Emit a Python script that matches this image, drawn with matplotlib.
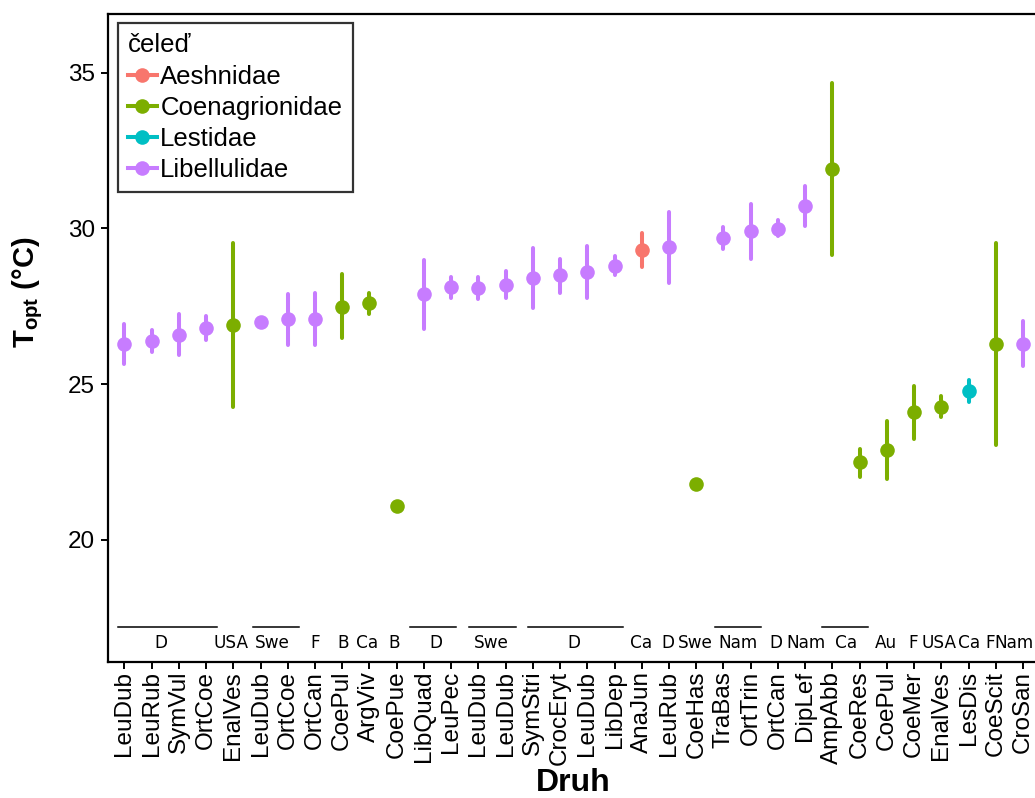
import matplotlib
matplotlib.use("Agg")
import matplotlib.pyplot as plt
from matplotlib.lines import Line2D
import numpy as np

plt.rcParams['font.family'] = ['Liberation Sans', 'DejaVu Sans']
plt.rcParams['mathtext.fontset'] = 'custom'
plt.rcParams['mathtext.rm'] = 'Liberation Sans'
plt.rcParams['mathtext.bf'] = 'Liberation Sans:bold'

species = ["LeuDub", "LeuRub", "SymVul", "OrtCoe", "EnalVes", "LeuDub", "OrtCoe", "OrtCan",
           "CoePul", "ArgViv", "CoePue", "LibQuad", "LeuPec", "LeuDub", "LeuDub", "SymStri",
           "CrocEryt", "LeuDub", "LibDep", "AnaJun", "LeuRub", "CoeHas", "TraBas", "OrtTrin",
           "OrtCan", "DipLef", "AmpAbb", "CoeRes", "CoePul", "CoeMer", "EnalVes", "LesDis",
           "CoeScit", "CroSan"]
family = ["Libellulidae", "Libellulidae", "Libellulidae", "Libellulidae", "Coenagrionidae",
          "Libellulidae", "Libellulidae", "Libellulidae", "Coenagrionidae", "Coenagrionidae",
          "Coenagrionidae", "Libellulidae", "Libellulidae", "Libellulidae", "Libellulidae",
          "Libellulidae", "Libellulidae", "Libellulidae", "Libellulidae", "Aeshnidae",
          "Libellulidae", "Coenagrionidae", "Libellulidae", "Libellulidae", "Libellulidae",
          "Libellulidae", "Coenagrionidae", "Coenagrionidae", "Coenagrionidae", "Coenagrionidae",
          "Coenagrionidae", "Lestidae", "Coenagrionidae", "Libellulidae"]
topt = [26.30, 26.39, 26.58, 26.80, 26.90, 27.00, 27.10, 27.10, 27.48, 27.59, 21.09, 27.90,
        28.12, 28.10, 28.19, 28.40, 28.49, 28.60, 28.80, 29.30, 29.40, 21.80, 29.69, 29.90,
        29.99, 30.71, 31.90, 22.51, 22.89, 24.10, 24.28, 24.78, 26.28, 26.28]
lower = [25.65, 26.03, 25.94, 26.40, 24.26, np.nan, 26.27, 26.25, 26.47, 27.25, np.nan, 26.78,
         27.76, 27.74, 27.75, 27.43, 27.94, 27.76, 28.50, 28.76, 28.25, np.nan, 29.35, 29.02,
         29.74, 30.06, 29.15, 22.03, 21.96, 23.24, 23.94, 24.42, 23.05, 25.57]
upper = [26.93, 26.74, 27.24, 27.19, 29.53, np.nan, 27.90, 27.92, 28.54, 27.94, np.nan, 28.99,
         28.44, 28.44, 28.64, 29.36, 29.03, 29.43, 29.10, 29.84, 30.53, np.nan, 30.03, 30.77,
         30.26, 31.35, 34.65, 22.92, 23.82, 24.93, 24.63, 25.14, 29.53, 27.03]

country_labels = ["D", "USA", "Swe", "F", "B", "Ca", "B", "D", "Swe", "D", "Ca", "D", "Swe",
                  "Nam", "D", "Nam", "Ca", "Au", "F", "USA", "Ca", "F"]
country_pos = [2.35, 4.91, 6.45, 8.00, 9.02, 9.90, 10.90, 12.45, 14.47, 17.51, 19.96, 20.94,
               21.96, 23.55, 24.93, 26.03, 27.50, 28.96, 29.98, 30.93, 32.03, 32.80]
last_label = "Nam"
last_label_right = 34.40
group_start = [0.78, 5.74, 11.49, 13.67, 15.84, 22.69, 26.61]
group_end = [4.42, 7.43, 13.18, 15.39, 19.30, 24.37, 28.29]

families = ["Aeshnidae", "Coenagrionidae", "Lestidae", "Libellulidae"]
colors = {"Aeshnidae": "#F8766D", "Coenagrionidae": "#7CAE00",
          "Lestidae": "#00BFC4", "Libellulidae": "#C77CFF"}

fig = plt.figure(figsize=(10.35, 7.98), dpi=100)
ax = fig.add_axes([108 / 1035, 1 - 662 / 798, 931.4 / 1035, 648 / 798])

x = np.arange(1, len(species) + 1)
for xi, v, lo, hi, fam in zip(x, topt, lower, upper, family):
    c = colors[fam]
    if not np.isnan(lo):
        ax.plot([xi, xi], [lo, hi], color=c, lw=2.9, solid_capstyle='round', zorder=2)
    ax.plot([xi], [v], 'o', color=c, markersize=10.5, markeredgewidth=0, zorder=3)

for s, e in zip(group_start, group_end):
    ax.plot([s, e], [17.19, 17.19], color='black', lw=1.1, zorder=1)
for lab, p in zip(country_labels, country_pos):
    ax.text(p, 16.68, lab, ha='center', va='center', fontsize=12.2,
            family='DejaVu Sans', clip_on=False)
ax.text(last_label_right, 16.68, last_label, ha='right', va='center', fontsize=12.2,
        family='DejaVu Sans', clip_on=False)

ax.set_xlim(0.4, len(species) + 0.6)
ax.set_ylim(16.08, 36.88)
ax.set_xticks(x)
ax.set_xticklabels(species, rotation=90, fontsize=17.5)
ax.set_yticks([20, 25, 30, 35])
ax.set_yticklabels(["20", "25", "30", "35"], fontsize=17.5)
ax.tick_params(axis='x', length=4.8, width=1.4, pad=1.5, color='black')
ax.tick_params(axis='y', length=4.8, width=1.4, pad=4.5, color='black')
for sp in ax.spines.values():
    sp.set_linewidth(1.6)
    sp.set_color('black')

ax.set_xlabel("Druh", fontsize=23, fontweight='bold', labelpad=2)
ax.set_ylabel(r"$\mathbf{T_{opt}}$ (°C)", fontsize=21, fontweight='bold')
ax.yaxis.set_label_coords(-0.068, 0.57)

handles = [Line2D([0], [0], color=colors[f], lw=2.9, marker='o', markersize=10.5,
                  markeredgewidth=0) for f in families]
leg = ax.legend(handles, families, title="čeleď", loc='upper left',
                bbox_to_anchor=(0.0107, 0.986), borderaxespad=0, fontsize=18.5,
                title_fontsize=18.5, frameon=True, fancybox=False, handlelength=1.1,
                handletextpad=0.15, labelspacing=0.28, borderpad=0.4)
leg._legend_box.align = "left"
leg.get_frame().set_edgecolor('black')
leg.get_frame().set_linewidth(1.6)

fig.savefig("out.png", dpi=100)
